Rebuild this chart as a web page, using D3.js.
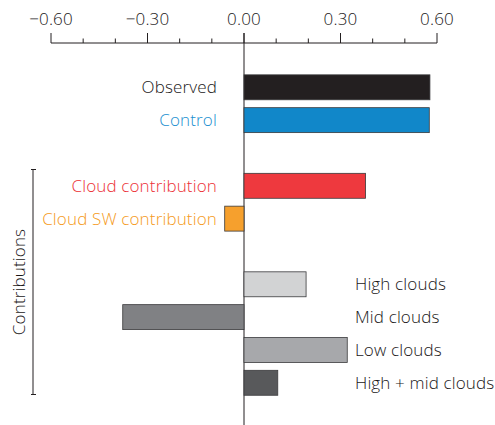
<!DOCTYPE html>
<html>
<head>
<meta charset="utf-8">
<script src="https://cdn.jsdelivr.net/npm/d3@7"></script>
<style>
  html, body { margin: 0; padding: 0; background: #fff; }
  svg { display: block; }
  text { font-family: "Open Sans", Lato, sans-serif; font-weight: 300; letter-spacing: 0.15px; }
</style>
</head>
<body>
<svg id="chart" width="495" height="425"></svg>
<script>
// Row slots (blank slots leave gaps between groups)
const slots = ["Observed", "Control", "gap1", "Cloud contribution", "Cloud SW contribution",
               "gap2", "High clouds", "Mid clouds", "Low clouds", "High + mid clouds"];
const categories = ["Observed", "Control", "Cloud contribution", "Cloud SW contribution",
                    "High clouds", "Mid clouds", "Low clouds", "High + mid clouds"];
const values = [0.578, 0.576, 0.378, -0.06, 0.193, -0.377, 0.321, 0.105];
const fills = ["#231f20", "#1187c9", "#ee393e", "#f6a02d", "#d2d3d4", "#808184", "#a7a8ab", "#58595b"];
const labelColors = ["#1a1718", "#1a8fd0", "#ec3035", "#f59a20", "#1a1718", "#1a1718", "#1a1718", "#1a1718"];
const labelSide = ["left", "left", "left", "left", "right", "right", "right", "right"];
const tickValues = [-0.6, -0.3, 0, 0.3, 0.6];
const minorTicks = [-0.6, -0.5, -0.4, -0.3, -0.2, -0.1, 0, 0.1, 0.2, 0.3, 0.4, 0.5, 0.6];
const bracketTitle = "Contributions";

const svg = d3.select("#chart");
const x = d3.scaleLinear().domain([-0.6, 0.6]).range([51, 437]);
const y = d3.scaleBand().domain(slots).range([70.9, 399.2]).paddingInner(0.24).paddingOuter(0.12);

const ink = "#231f20";
const fontSize = 17;

// Top axis: baseline with long major and short minor ticks
const axisY = 43;
svg.append("line").attr("x1", x(-0.6)).attr("x2", x(0.6))
  .attr("y1", axisY).attr("y2", axisY).attr("stroke", ink).attr("stroke-width", 1);
svg.append("g").selectAll("line").data(minorTicks).join("line")
  .attr("x1", d => x(d)).attr("x2", d => x(d))
  .attr("y1", d => tickValues.some(t => Math.abs(t - d) < 1e-9) ? 33 : 38.5)
  .attr("y2", axisY).attr("stroke", ink).attr("stroke-width", 1);
svg.append("g").selectAll("text").data(tickValues).join("text")
  .attr("x", d => x(d)).attr("y", 24.5).attr("text-anchor", "middle")
  .attr("font-size", fontSize).attr("fill", "#1a1718")
  .text(d => d3.format(".2f")(d).replace("-", "\u2212"));

// Zero line running down through the bars
svg.append("line").attr("x1", x(0)).attr("x2", x(0)).attr("y1", 33).attr("y2", 425)
  .attr("stroke", ink).attr("stroke-width", 1);

// Bars
const data = categories.map((c, i) => ({ c, v: values[i], fill: fills[i], lc: labelColors[i], side: labelSide[i] }));
svg.append("g").selectAll("rect").data(data).join("rect")
  .attr("x", d => x(Math.min(0, d.v)))
  .attr("width", d => Math.abs(x(d.v) - x(0)))
  .attr("y", d => y(d.c))
  .attr("height", y.bandwidth())
  .attr("fill", d => d.fill)
  .attr("stroke", "#3a3a3c").attr("stroke-width", 0.8);

// Category labels
svg.append("g").selectAll("text").data(data).join("text")
  .attr("x", d => d.side === "left" ? 217 : 355)
  .attr("text-anchor", d => d.side === "left" ? "end" : "start")
  .attr("y", d => y(d.c) + y.bandwidth() / 2)
  .attr("dy", "0.35em")
  .attr("font-size", fontSize)
  .attr("fill", d => d.lc)
  .text(d => d.c);

// Bracket grouping the contribution rows
const bx = 33, by0 = 169.5, by1 = 394.5;
const br = svg.append("g").attr("stroke", ink).attr("stroke-width", 1);
br.append("line").attr("x1", bx).attr("x2", bx).attr("y1", by0).attr("y2", by1);
br.append("line").attr("x1", bx - 2).attr("x2", bx + 3).attr("y1", by0).attr("y2", by0);
br.append("line").attr("x1", bx - 2).attr("x2", bx + 3).attr("y1", by1).attr("y2", by1);
svg.append("text")
  .attr("transform", `translate(19,${(by0 + by1) / 2}) rotate(-90)`)
  .attr("text-anchor", "middle").attr("dy", "0.35em")
  .attr("font-size", fontSize).attr("fill", "#1a1718")
  .text(bracketTitle);
</script>
</body>
</html>
